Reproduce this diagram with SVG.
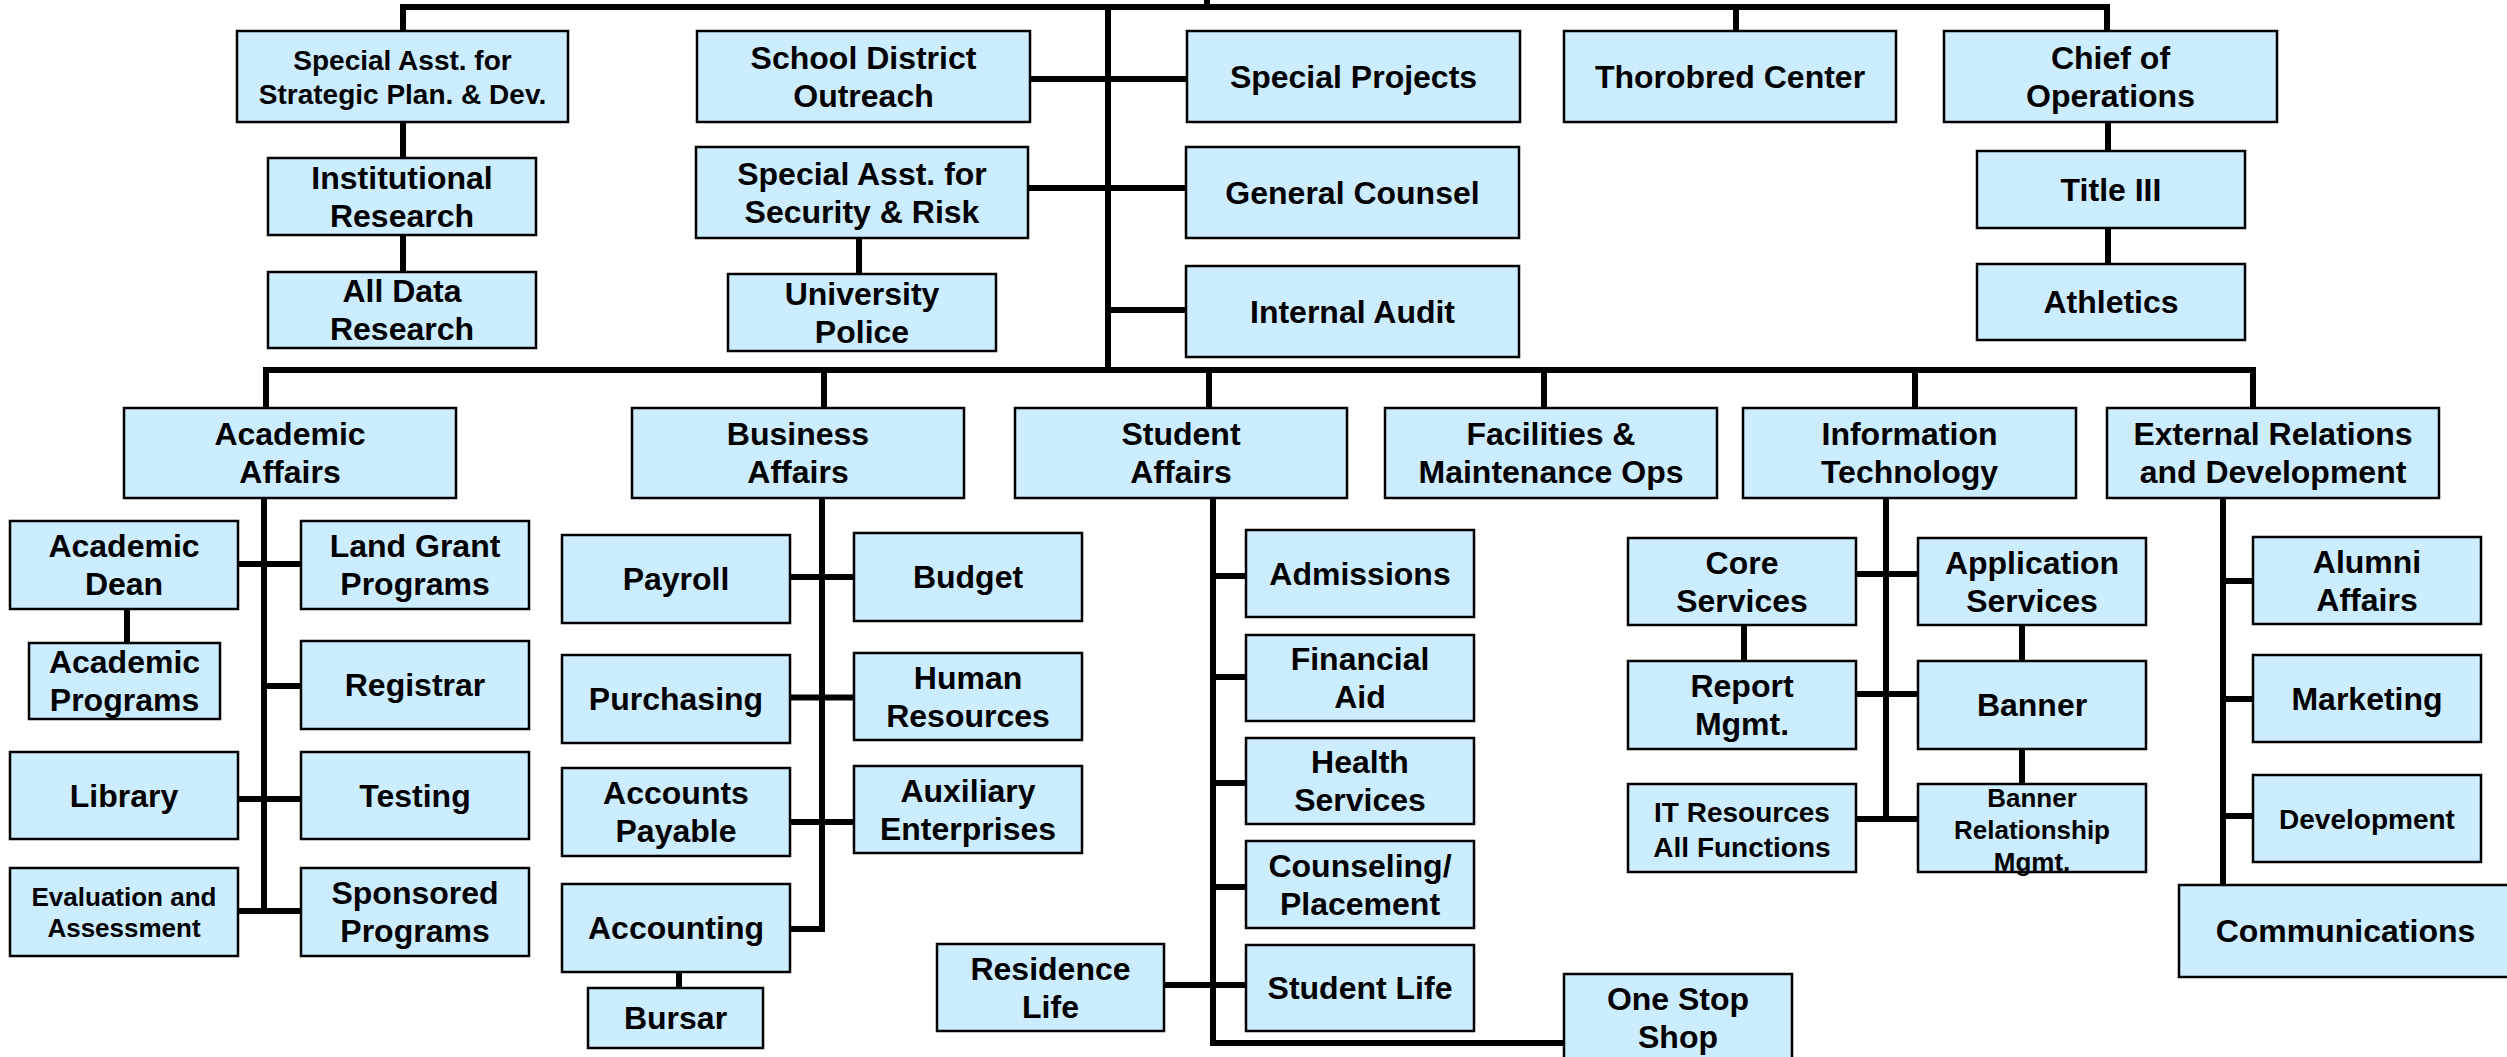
<svg xmlns="http://www.w3.org/2000/svg" width="2507" height="1057" viewBox="0 0 2507 1057">
<style>
.node rect{fill:#CCECFF;stroke:#000;stroke-width:2.5}
.node text{font-family:"Liberation Sans",Arial,Helvetica,sans-serif;font-weight:bold;font-size:32px;text-anchor:middle;fill:#000}
.sm text{font-size:28px}
.xs text{font-size:26px}
#connectors path{fill:none;stroke:#000;stroke-width:6}
</style>
<rect width="2507" height="1057" fill="#fff"/>
<g id="connectors">
<path d="M403,31 V7 H2107 V31"/>
<path d="M1207,0 V7"/>
<path d="M1108,7 V370"/>
<path d="M1736,7 V31"/>
<path d="M403,122 V158 M403,235 V272"/>
<path d="M1030,79 H1187 M1028,188 H1186 M1108,310 H1186"/>
<path d="M859,238 V274"/>
<path d="M2108,122 V151 M2108,228 V264"/>
<path d="M266,408 V370 H2253 V408"/>
<path d="M824,370 V408 M1209,370 V408 M1544,370 V408 M1915,370 V408"/>
<path d="M264,498 V911 M238,564 H301 M127,609 V643 M264,686 H301 M238,799 H301 M238,911 H301"/>
<path d="M822,498 V929 H790 M790,577 H854 M790,697.5 H854 M790,822 H854 M679,972 V988"/>
<path d="M1213,498 V1043 H1564 M1213,576 H1246 M1213,677 H1246 M1213,783 H1246 M1213,887 H1246 M1164,985 H1246"/>
<path d="M1886,498 V820 M1856,574 H1918 M1856,694 H1918 M1856,819 H1918 M1744,625 V661 M2022,625 V661 M2022,749 V784"/>
<path d="M2223,498 V885 M2223,581 H2253 M2223,699 H2253 M2223,816 H2253"/>
</g>
<g id="strategic" class="node sm"><rect x="237" y="31" width="331" height="91"/><text x="402.5" y="69.5">Special Asst. for</text><text x="402.5" y="103.5">Strategic Plan. &amp; Dev.</text></g>
<g id="inst-research" class="node"><rect x="268" y="158" width="268" height="77"/><text x="402" y="188.5">Institutional</text><text x="402" y="226.5">Research</text></g>
<g id="all-data" class="node"><rect x="268" y="272" width="268" height="76"/><text x="402" y="302">All Data</text><text x="402" y="340">Research</text></g>
<g id="school-district" class="node"><rect x="697" y="31" width="333" height="91"/><text x="863.5" y="68.5">School District</text><text x="863.5" y="106.5">Outreach</text></g>
<g id="security" class="node"><rect x="696" y="147" width="332" height="91"/><text x="862" y="184.5">Special Asst. for</text><text x="862" y="222.5">Security &amp; Risk</text></g>
<g id="police" class="node"><rect x="728" y="274" width="268" height="77"/><text x="862" y="304.5">University</text><text x="862" y="342.5">Police</text></g>
<g id="special-projects" class="node"><rect x="1187" y="31" width="333" height="91"/><text x="1353.5" y="87.5">Special Projects</text></g>
<g id="general-counsel" class="node"><rect x="1186" y="147" width="333" height="91"/><text x="1352.5" y="203.5">General Counsel</text></g>
<g id="internal-audit" class="node"><rect x="1186" y="266" width="333" height="91"/><text x="1352.5" y="322.5">Internal Audit</text></g>
<g id="thorobred" class="node"><rect x="1564" y="31" width="332" height="91"/><text x="1730" y="87.5">Thorobred Center</text></g>
<g id="chief-ops" class="node"><rect x="1944" y="31" width="333" height="91"/><text x="2110.5" y="68.5">Chief of</text><text x="2110.5" y="106.5">Operations</text></g>
<g id="title3" class="node"><rect x="1977" y="151" width="268" height="77"/><text x="2111" y="200.5">Title III</text></g>
<g id="athletics" class="node"><rect x="1977" y="264" width="268" height="76"/><text x="2111" y="313">Athletics</text></g>
<g id="academic-affairs" class="node"><rect x="124" y="408" width="332" height="90"/><text x="290" y="445">Academic</text><text x="290" y="483">Affairs</text></g>
<g id="business-affairs" class="node"><rect x="632" y="408" width="332" height="90"/><text x="798" y="445">Business</text><text x="798" y="483">Affairs</text></g>
<g id="student-affairs" class="node"><rect x="1015" y="408" width="332" height="90"/><text x="1181" y="445">Student</text><text x="1181" y="483">Affairs</text></g>
<g id="facilities" class="node"><rect x="1385" y="408" width="332" height="90"/><text x="1551" y="445">Facilities &amp;</text><text x="1551" y="483">Maintenance Ops</text></g>
<g id="it" class="node"><rect x="1743" y="408" width="333" height="90"/><text x="1909.5" y="445">Information</text><text x="1909.5" y="483">Technology</text></g>
<g id="external" class="node"><rect x="2107" y="408" width="332" height="90"/><text x="2273" y="445">External Relations</text><text x="2273" y="483">and Development</text></g>
<g id="academic-dean" class="node"><rect x="10" y="521" width="228" height="88"/><text x="124" y="557">Academic</text><text x="124" y="595">Dean</text></g>
<g id="land-grant" class="node"><rect x="301" y="521" width="228" height="88"/><text x="415" y="557">Land Grant</text><text x="415" y="595">Programs</text></g>
<g id="academic-programs" class="node"><rect x="29" y="643" width="191" height="76"/><text x="124.5" y="673">Academic</text><text x="124.5" y="711">Programs</text></g>
<g id="registrar" class="node"><rect x="301" y="641" width="228" height="88"/><text x="415" y="696">Registrar</text></g>
<g id="library" class="node"><rect x="10" y="752" width="228" height="87"/><text x="124" y="806.5">Library</text></g>
<g id="testing" class="node"><rect x="301" y="752" width="228" height="87"/><text x="415" y="806.5">Testing</text></g>
<g id="evaluation" class="node xs"><rect x="10" y="868" width="228" height="88"/><text x="124" y="906">Evaluation and</text><text x="124" y="937">Assessment</text></g>
<g id="sponsored" class="node"><rect x="301" y="868" width="228" height="88"/><text x="415" y="904">Sponsored</text><text x="415" y="942">Programs</text></g>
<g id="payroll" class="node"><rect x="562" y="535" width="228" height="88"/><text x="676" y="590">Payroll</text></g>
<g id="budget" class="node"><rect x="854" y="533" width="228" height="88"/><text x="968" y="588">Budget</text></g>
<g id="purchasing" class="node"><rect x="562" y="655" width="228" height="88"/><text x="676" y="710">Purchasing</text></g>
<g id="hr" class="node"><rect x="854" y="653" width="228" height="87"/><text x="968" y="688.5">Human</text><text x="968" y="726.5">Resources</text></g>
<g id="accounts-payable" class="node"><rect x="562" y="768" width="228" height="88"/><text x="676" y="804">Accounts</text><text x="676" y="842">Payable</text></g>
<g id="auxiliary" class="node"><rect x="854" y="766" width="228" height="87"/><text x="968" y="801.5">Auxiliary</text><text x="968" y="839.5">Enterprises</text></g>
<g id="accounting" class="node"><rect x="562" y="884" width="228" height="88"/><text x="676" y="939">Accounting</text></g>
<g id="bursar" class="node"><rect x="588" y="988" width="175" height="60"/><text x="675.5" y="1029">Bursar</text></g>
<g id="admissions" class="node"><rect x="1246" y="530" width="228" height="87"/><text x="1360" y="584.5">Admissions</text></g>
<g id="financial-aid" class="node"><rect x="1246" y="635" width="228" height="86"/><text x="1360" y="670">Financial</text><text x="1360" y="708">Aid</text></g>
<g id="health" class="node"><rect x="1246" y="738" width="228" height="86"/><text x="1360" y="773">Health</text><text x="1360" y="811">Services</text></g>
<g id="counseling" class="node"><rect x="1246" y="841" width="228" height="87"/><text x="1360" y="876.5">Counseling/</text><text x="1360" y="914.5">Placement</text></g>
<g id="student-life" class="node"><rect x="1246" y="945" width="228" height="86"/><text x="1360" y="999">Student Life</text></g>
<g id="residence-life" class="node"><rect x="937" y="944" width="227" height="87"/><text x="1050.5" y="979.5">Residence</text><text x="1050.5" y="1017.5">Life</text></g>
<g id="one-stop" class="node"><rect x="1564" y="974" width="228" height="90"/><text x="1678" y="1010">One Stop</text><text x="1678" y="1048">Shop</text></g>
<g id="core-services" class="node"><rect x="1628" y="538" width="228" height="87"/><text x="1742" y="573.5">Core</text><text x="1742" y="611.5">Services</text></g>
<g id="app-services" class="node"><rect x="1918" y="538" width="228" height="87"/><text x="2032" y="573.5">Application</text><text x="2032" y="611.5">Services</text></g>
<g id="report-mgmt" class="node"><rect x="1628" y="661" width="228" height="88"/><text x="1742" y="697">Report</text><text x="1742" y="735">Mgmt.</text></g>
<g id="banner" class="node"><rect x="1918" y="661" width="228" height="88"/><text x="2032" y="716">Banner</text></g>
<g id="it-resources" class="node sm"><rect x="1628" y="784" width="228" height="88"/><text x="1742" y="822">IT Resources</text><text x="1742" y="857">All Functions</text></g>
<g id="banner-rel" class="node xs"><rect x="1918" y="784" width="228" height="88"/><text x="2032" y="807">Banner</text><text x="2032" y="839">Relationship</text><text x="2032" y="871">Mgmt.</text></g>
<g id="alumni" class="node"><rect x="2253" y="537" width="228" height="87"/><text x="2367" y="572.5">Alumni</text><text x="2367" y="610.5">Affairs</text></g>
<g id="marketing" class="node"><rect x="2253" y="655" width="228" height="87"/><text x="2367" y="709.5">Marketing</text></g>
<g id="development" class="node sm"><rect x="2253" y="775" width="228" height="87"/><text x="2367" y="828.5">Development</text></g>
<g id="communications" class="node"><rect x="2179" y="885" width="333" height="92"/><text x="2345.5" y="942">Communications</text></g>
</svg>
